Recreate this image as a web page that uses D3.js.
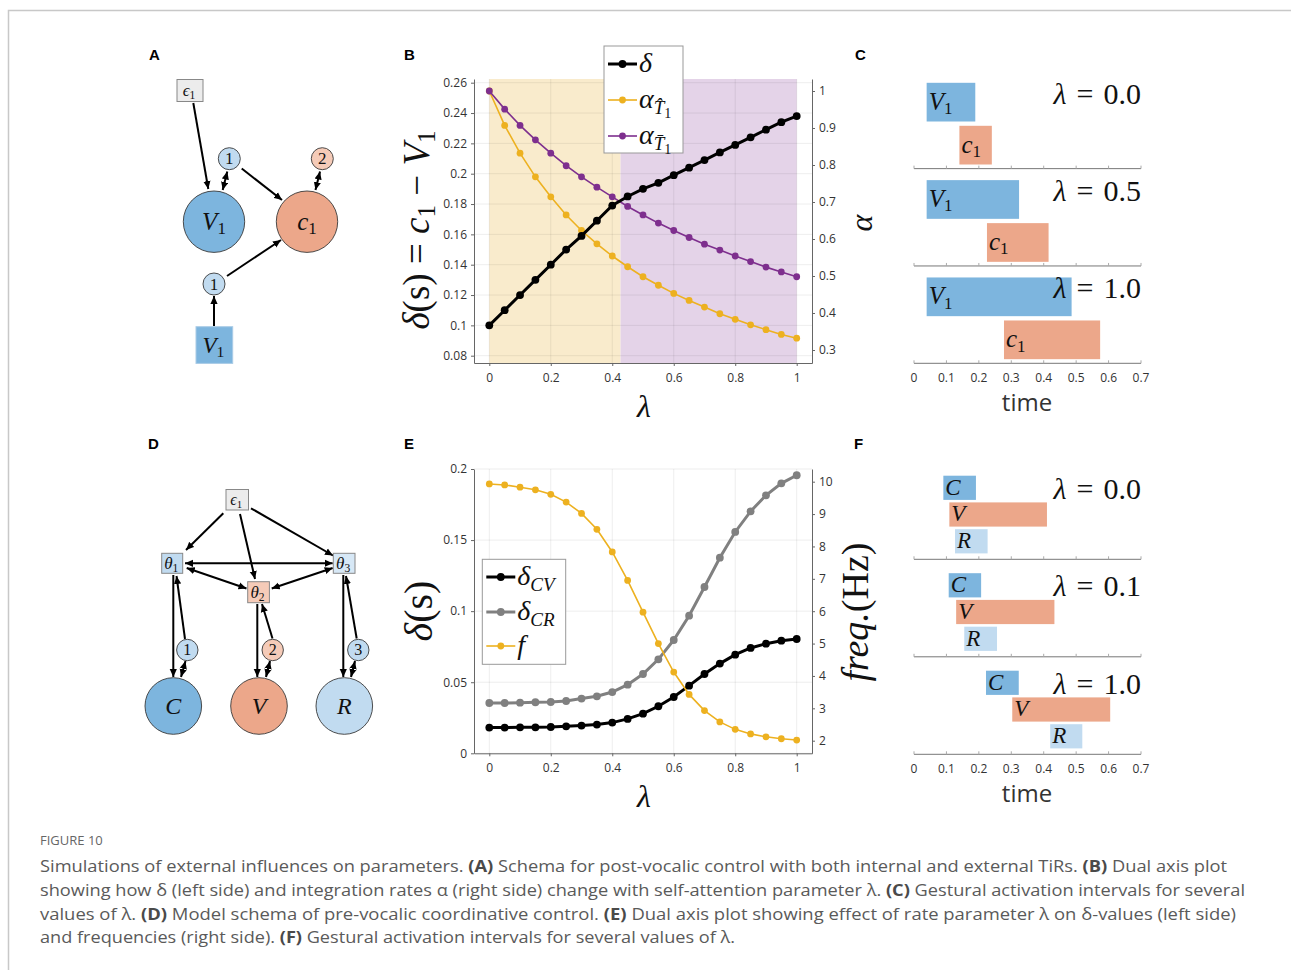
<!DOCTYPE html>
<html><head><meta charset="utf-8">
<script src="https://cdn.jsdelivr.net/npm/d3@7"></script>
<style>body{margin:0;background:#fff} svg{display:block} text{white-space:pre}</style>
</head><body>
<svg id="fig" width="1291" height="970"></svg>
<script>
// λ sweep shared by panels B and E
const lambdaGrid = [0,0.05,0.1,0.15,0.2,0.25,0.3,0.35,0.4,0.45,0.5,0.55,0.6,0.65,0.7,0.75,0.8,0.85,0.9,0.95,1];
// Panel B: δ (left axis) and integration rates α (right axis)
const deltaB   = [0.100,0.110,0.120,0.130,0.140,0.150,0.159,0.169,0.179,0.185,0.190,0.194,0.199,0.204,0.209,0.214,0.219,0.224,0.229,0.234,0.238];
const alphaHat = [1.000,0.907,0.832,0.768,0.714,0.665,0.623,0.587,0.554,0.525,0.498,0.475,0.453,0.434,0.416,0.398,0.383,0.368,0.355,0.342,0.332];
const alphaBar = [1.000,0.951,0.907,0.868,0.832,0.798,0.768,0.740,0.714,0.688,0.665,0.643,0.623,0.604,0.586,0.570,0.554,0.539,0.524,0.511,0.498];
const regimeSplit = 0.427;
const bLeftTicks  = [0.08,0.1,0.12,0.14,0.16,0.18,0.2,0.22,0.24,0.26];
const bRightTicks = [0.3,0.4,0.5,0.6,0.7,0.8,0.9,1];
const lambdaTicks = [0,0.2,0.4,0.6,0.8,1];
// Panel C: activation intervals [start, end]
const cLambdaLabels = ["0.0","0.5","1.0"];
const cV1 = [[0.039,0.189],[0.039,0.324],[0.039,0.486]];
const cC1 = [[0.140,0.240],[0.225,0.415],[0.2775,0.574]];
// Panel E: δ values (left axis) and frequency (right axis)
const deltaCV = [0.0181,0.0181,0.0183,0.0183,0.0185,0.0190,0.0195,0.0202,0.0216,0.0242,0.0279,0.0331,0.0396,0.0476,0.0558,0.0631,0.0694,0.0741,0.0771,0.0792,0.0804];
const deltaCR = [0.0354,0.0354,0.0356,0.0359,0.0361,0.0368,0.0385,0.0401,0.0431,0.0483,0.0558,0.0661,0.0797,0.0968,0.1170,0.1376,0.1557,0.1702,0.1815,0.1899,0.1956];
const freqHz  = [9.93,9.90,9.83,9.75,9.61,9.37,9.02,8.53,7.83,6.95,5.97,5.00,4.12,3.43,2.93,2.58,2.35,2.21,2.12,2.06,2.02];
const eLeftTicks  = [0,0.05,0.1,0.15,0.2];
const eRightTicks = [2,3,4,5,6,7,8,9,10];
// Panel F: activation intervals [start, end]
const fLambdaLabels = ["0.0","0.1","1.0"];
const fC = [[0.0905,0.191],[0.107,0.207],[0.222,0.323]];
const fV = [[0.109,0.410],[0.130,0.433],[0.303,0.605]];
const fR = [[0.1265,0.227],[0.155,0.256],[0.420,0.519]];
const timeTicks = [0,0.1,0.2,0.3,0.4,0.5,0.6,0.7];

const SERIF = "'Liberation Serif','DejaVu Serif',serif";
const SANS = "'Open Sans','DejaVu Sans',sans-serif";
const COL = {blue:"#7db5de", salmon:"#eca78a", light:"#c1dbf0", lightSalmon:"#f5cbb8",
             gold:"#EDB120", purple:"#7E2F8E", gray:"#808080", box:"#ececec"};

const svg = d3.select("#fig");
svg.append("rect").attr("width",1291).attr("height",970).attr("fill","#fff");
// page frame
svg.append("path").attr("d","M8.5,970 V10.5 H1291").attr("fill","none").attr("stroke","#c8c8c8").attr("stroke-width",1.5);

const defs = svg.append("defs");
defs.append("marker").attr("id","arr").attr("viewBox","0 0 10 10").attr("refX",10).attr("refY",5)
  .attr("markerWidth",8).attr("markerHeight",8).attr("markerUnits","userSpaceOnUse")
  .attr("orient","auto-start-reverse")
  .append("path").attr("d","M0,0.5 L10,5 L0,9.5 Z").attr("fill","#000");

// math-like text: parts = [string, kind]; kind: i italic, r roman, s sub, si sub italic, ss sub-sub
function math(parent, x, y, parts, size, anchor="start", rot=0) {
  const t = parent.append("text").attr("x",x).attr("y",y).attr("font-family",SERIF)
    .attr("font-size",size).attr("text-anchor",anchor).attr("fill","#111");
  if (rot) t.attr("transform",`rotate(${rot},${x},${y})`);
  const spec = {i:[1,0,true], r:[1,0,false], s:[0.68,0.17,false], si:[0.68,0.2,true], ss:[0.5,0.36,false]};
  let down = 0;
  for (const [s, kind] of parts) {
    const [sc, sh, it] = spec[kind];
    const ts = t.append("tspan").text(s);
    const target = sh*size;
    if (Math.abs(target-down) > 1e-6) { ts.attr("dy", target-down); down = target; }
    if (sc !== 1) ts.attr("font-size", size*sc);
    if (it) ts.attr("font-style","italic");
  }
  return t;
}

function panelLetter(x, y, s) {
  svg.append("text").attr("x",x).attr("y",y).attr("font-family","'Liberation Sans',Arial,sans-serif")
    .attr("font-weight","bold").attr("font-size",15).attr("fill","#000").text(s);
}
panelLetter(149,60,"A"); panelLetter(404,60,"B"); panelLetter(855,60,"C");
panelLetter(148,449,"D"); panelLetter(404,449,"E"); panelLetter(854,449,"F");

function arrow(g, p, q, both=false, w=2) {
  const l = g.append("line").attr("x1",p[0]).attr("y1",p[1]).attr("x2",q[0]).attr("y2",q[1])
    .attr("stroke","#000").attr("stroke-width",w).attr("marker-end","url(#arr)");
  if (both) l.attr("marker-start","url(#arr)");
}
function circleNode(g, cx, cy, r, fill, parts, size) {
  g.append("circle").attr("cx",cx).attr("cy",cy).attr("r",r).attr("fill",fill).attr("stroke","#3a3a3a").attr("stroke-width",0.9);
  math(g, cx, cy+size*0.33, parts, size, "middle");
}
function boxNode(g, x, y, w, h, fill, parts, size, stroke="#888") {
  g.append("rect").attr("x",x).attr("y",y).attr("width",w).attr("height",h).attr("fill",fill).attr("stroke",stroke).attr("stroke-width",1);
  math(g, x+w/2-1, y+h/2+size*0.33, parts, size, "middle");
}

// ---------- Panel A: post-vocalic schema ----------
const gA = svg.append("g");
arrow(gA,[193.3,103],[208.3,189]);
arrow(gA,[227.3,171.5],[222.7,190],true);
arrow(gA,[241.7,168.5],[282,200]);
arrow(gA,[320,171.5],[315.5,190],true);
arrow(gA,[227,276],[281,240]);
arrow(gA,[214,326],[214,296]);
boxNode(gA,177,79.5,26,22,COL.box,[["ϵ","i"],["1","s"]],17);
circleNode(gA,229.3,158.7,11,COL.light,[["1","r"]],17);
circleNode(gA,322.3,158.7,11,COL.lightSalmon,[["2","r"]],17);
circleNode(gA,214,221.7,30.7,COL.blue,[["V","i"],["1","s"]],25);
circleNode(gA,307,221.7,30.7,COL.salmon,[["c","i"],["1","s"]],25);
circleNode(gA,214,284,11,COL.light,[["1","r"]],17);
boxNode(gA,196,326.7,36.7,36.7,COL.blue,[["V","i"],["1","s"]],23,"#a9cbe6");

// ---------- Panel D: pre-vocalic coordinative schema ----------
const gD = svg.append("g");
arrow(gD,[223.3,513.3],[186,550]);
arrow(gD,[240,514],[255,579]);
arrow(gD,[251,508.3],[333,555.5]);
arrow(gD,[185,563.3],[332.7,563.3],true);
arrow(gD,[186.7,568],[246.5,588.5],true);
arrow(gD,[332.7,568],[271.7,588.5],true);
arrow(gD,[173.3,575],[173.3,677]);
arrow(gD,[185,639],[176.5,576]);
arrow(gD,[185.5,661],[181,677],true);
arrow(gD,[257.3,604],[257.3,677]);
arrow(gD,[272.5,638.5],[262,604]);
arrow(gD,[270,661],[266,677],true);
arrow(gD,[343.3,575],[343.3,677]);
arrow(gD,[356.7,638.5],[346,576]);
arrow(gD,[355,661],[351,677],true);
boxNode(gD,226,489.5,22.5,20.5,COL.box,[["ϵ","i"],["1","s"]],16);
boxNode(gD,161.7,553.3,21,20,COL.light,[["θ","i"],["1","s"]],17);
boxNode(gD,333.3,553.3,21.7,20,"#d7e8f6",[["θ","i"],["3","s"]],17);
boxNode(gD,247.7,581.7,21.7,21,COL.lightSalmon,[["θ","i"],["2","s"]],17);
circleNode(gD,187.3,650,10.7,COL.light,[["1","r"]],16);
circleNode(gD,272.7,650,10.7,COL.lightSalmon,[["2","r"]],16);
circleNode(gD,358.3,650,10.7,COL.light,[["3","r"]],16);
circleNode(gD,173.3,706,28.3,COL.blue,[["C","i"]],24);
circleNode(gD,259,706,28.3,COL.salmon,[["V","i"]],24);
circleNode(gD,344.3,706,28.3,COL.light,[["R","i"]],24);

// ---------- dual-axis line panels ----------
const numFmt = d => String(+(+d).toFixed(2));
function styleAxis(sel) {
  sel.selectAll("path.domain").attr("stroke","#666");
  sel.selectAll(".tick line").attr("stroke","#666");
  sel.selectAll("text").attr("font-family",SANS).attr("font-size",12).attr("fill","#333");
}
function dualPanel(cfg) {
  const g = svg.append("g");
  const {top, bottom, left, right} = cfg;
  const x = d3.scaleLinear().domain([0,1]).range([489.3,796.7]);
  x.domain([x.invert(left), x.invert(right)]).range([left,right]);
  const yL = d3.scaleLinear().domain(cfg.lDom).range(cfg.lRange);
  yL.domain([yL.invert(bottom), yL.invert(top)]).range([bottom,top]);
  const yR = d3.scaleLinear().domain(cfg.rDom).range(cfg.rRange);
  yR.domain([yR.invert(bottom), yR.invert(top)]).range([bottom,top]);
  if (cfg.shade) cfg.shade(g, x, top, bottom);
  // grid
  g.append("g").selectAll("line").data(lambdaTicks).join("line")
    .attr("x1",d=>x(d)).attr("x2",d=>x(d)).attr("y1",top).attr("y2",bottom)
    .attr("stroke","#000").attr("stroke-opacity",0.07);
  g.append("g").selectAll("line").data(cfg.lTicks).join("line")
    .attr("x1",left).attr("x2",right).attr("y1",d=>yL(d)).attr("y2",d=>yL(d))
    .attr("stroke","#000").attr("stroke-opacity",0.07);
  g.append("g").attr("transform",`translate(0,${bottom})`)
    .call(d3.axisBottom(x).tickValues(lambdaTicks).tickFormat(numFmt).tickSize(3).tickSizeOuter(0).tickPadding(7.5)).call(styleAxis);
  g.append("g").attr("transform",`translate(${left},0)`)
    .call(d3.axisLeft(yL).tickValues(cfg.lTicks).tickFormat(numFmt).tickSize(3).tickSizeOuter(0).tickPadding(4)).call(styleAxis);
  g.append("g").attr("transform",`translate(${right},0)`)
    .call(d3.axisRight(yR).tickValues(cfg.rTicks).tickFormat(numFmt).tickSize(3).tickSizeOuter(0).tickPadding(4)).call(styleAxis);
  for (const s of cfg.series) {
    const y = s.axis === "L" ? yL : yR;
    const pts = lambdaGrid.map((l,i)=>[x(l), y(s.values[i])]);
    g.append("path").attr("d", d3.line()(pts)).attr("fill","none").attr("stroke",s.color).attr("stroke-width",s.w);
    g.append("g").selectAll("circle").data(pts).join("circle")
      .attr("cx",d=>d[0]).attr("cy",d=>d[1]).attr("r",s.r).attr("fill",s.color);
  }
  // legend
  const L = cfg.legend;
  g.append("rect").attr("x",L.x).attr("y",L.y).attr("width",L.w).attr("height",L.h)
    .attr("fill","#fff").attr("stroke","#999").attr("stroke-width",1);
  L.items.forEach((it, i) => {
    const s = cfg.series[it.series];
    const yy = L.rows[i];
    g.append("line").attr("x1",L.x+4).attr("x2",L.x+33).attr("y1",yy).attr("y2",yy).attr("stroke",s.color).attr("stroke-width",s.w);
    g.append("circle").attr("cx",L.x+18.5).attr("cy",yy).attr("r",s.r).attr("fill",s.color);
    math(g, L.x+35, yy+it.size*0.3, it.parts, it.size);
  });
  return {g, x, yL, yR};
}

// Panel B
dualPanel({
  top:79, bottom:363, left:474, right:812,
  lDom:[0.08,0.26], lRange:[355.7,82.7], rDom:[0.3,1], rRange:[350,91],
  lTicks:bLeftTicks, rTicks:bRightTicks,
  shade:(g,x,top,bottom)=>{
    g.append("rect").attr("x",x(0)).attr("y",top).attr("width",x(regimeSplit)-x(0)).attr("height",bottom-top).attr("fill","#f9ebcc");
    g.append("rect").attr("x",x(regimeSplit)).attr("y",top).attr("width",x(1)-x(regimeSplit)).attr("height",bottom-top).attr("fill","#e4d3e8");
  },
  series:[
    {values:alphaHat, axis:"R", color:COL.gold, w:1.6, r:3.4},
    {values:alphaBar, axis:"R", color:COL.purple, w:1.6, r:3.4},
    {values:deltaB, axis:"L", color:"#000", w:3, r:3.9}
  ],
  legend:{x:604, y:46, w:79, h:107, rows:[64,100,136], items:[
    {series:2, parts:[["δ","i"]], size:28},
    {series:0, parts:[["α","i"],["T̂","si"],["1","ss"]], size:28},
    {series:1, parts:[["α","i"],["T̄","si"],["1","ss"]], size:28}
  ]}
});
math(svg, 429, 230, [["δ","i"],["(s) = ","r"],["c","i"],["1","s"],[" − ","r"],["V","i"],["1","s"]], 37, "middle", -90);
math(svg, 872, 223, [["α","i"]], 32, "middle", -90);
math(svg, 644, 417, [["λ","i"]], 32, "middle");

// Panel E
dualPanel({
  top:469, bottom:753.3, left:474, right:812,
  lDom:[0,0.2], lRange:[753.3,469], rDom:[2,10], rRange:[740.7,481.7],
  lTicks:eLeftTicks, rTicks:eRightTicks,
  series:[
    {values:deltaCV, axis:"L", color:"#000", w:3, r:3.9},
    {values:deltaCR, axis:"L", color:COL.gray, w:3, r:3.9},
    {values:freqHz, axis:"R", color:COL.gold, w:1.6, r:3.4}
  ],
  legend:{x:482.3, y:559.3, w:83.4, h:105, rows:[577,612,646], items:[
    {series:0, parts:[["δ","i"],["CV","si"]], size:28},
    {series:1, parts:[["δ","i"],["CR","si"]], size:28},
    {series:2, parts:[["f","i"]], size:28}
  ]}
});
math(svg, 432, 611, [["δ","i"],["(s)","r"]], 40, "middle", -90);
math(svg, 868, 612, [["freq.","i"],["(Hz)","r"]], 38, "middle", -90);
math(svg, 644, 807, [["λ","i"]], 32, "middle");

// ---------- gestural activation intervals ----------
function ganttPanel(cfg) {
  const g = svg.append("g");
  const x = d3.scaleLinear().domain([0,0.7]).range([914,1141]);
  const sec = d3.scaleBand().domain(d3.range(cfg.labels.length)).range([cfg.top, cfg.bottom]);
  cfg.labels.forEach((lab, k) => {
    const y0 = sec(k);
    cfg.rows.forEach(row => {
      const [a, b] = row.data[k];
      g.append("rect").attr("x",x(a)).attr("y",y0+row.off).attr("width",x(b)-x(a)).attr("height",cfg.barH).attr("fill",row.color);
      math(g, x(a)+2, y0+row.off+cfg.barH/2+cfg.fs*0.3, row.parts, cfg.fs);
    });
    const yb = y0 + sec.step();
    g.append("line").attr("x1",914).attr("x2",1141).attr("y1",yb).attr("y2",yb).attr("stroke","#777").attr("stroke-width",1);
    g.append("g").selectAll("line").data(timeTicks).join("line")
      .attr("x1",d=>x(d)).attr("x2",d=>x(d)).attr("y1",yb).attr("y2",yb-3).attr("stroke","#aaa");
    math(g, 1141, y0+cfg.labOff, [["λ","i"],[" \u200A=\u200A "+lab,"r"]], 30, "end");
  });
  g.selectAll("text.tick").data(timeTicks).join("text").attr("class","tick")
    .attr("x",d=>x(d)).attr("y",cfg.bottom+18.5).attr("text-anchor","middle")
    .attr("font-family",SANS).attr("font-size",12).attr("fill","#333").text(numFmt);
  g.append("text").attr("x",1027).attr("y",cfg.bottom+48).attr("text-anchor","middle")
    .attr("font-family",SANS).attr("font-size",24).attr("fill","#333").text("time");
}
ganttPanel({top:71.3, bottom:363.3, barH:38.7, fs:25, labOff:32.5, labels:cLambdaLabels, rows:[
  {data:cV1, off:11.5, color:COL.blue, parts:[["V","i"],["1","s"]]},
  {data:cC1, off:54.5, color:COL.salmon, parts:[["c","i"],["1","s"]]}
]});
ganttPanel({top:461.8, bottom:754.3, barH:24.2, fs:23, labOff:37, labels:fLambdaLabels, rows:[
  {data:fC, off:13.9, color:COL.blue, parts:[["C","i"]]},
  {data:fV, off:40.6, color:COL.salmon, parts:[["V","i"]]},
  {data:fR, off:67.4, color:COL.light, parts:[["R","i"]]}
]});

// ---------- caption ----------
svg.append("text").attr("x",40).attr("y",845).attr("font-family",SANS).attr("font-size",13)
  .attr("fill","#666").text("FIGURE 10");
const captionLines = [
  {y:872, len:1187, parts:[["Simulations of external influences on parameters. ",0],["(A)",1],[" Schema for post-vocalic control with both internal and external TiRs. ",0],["(B)",1],[" Dual axis plot",0]]},
  {y:896, len:1205, parts:[["showing how δ (left side) and integration rates α (right side) change with self-attention parameter λ. ",0],["(C)",1],[" Gestural activation intervals for several",0]]},
  {y:920, len:1196, parts:[["values of λ. ",0],["(D)",1],[" Model schema of pre-vocalic coordinative control. ",0],["(E)",1],[" Dual axis plot showing effect of rate parameter λ on δ-values (left side)",0]]},
  {y:943, len:695, parts:[["and frequencies (right side). ",0],["(F)",1],[" Gestural activation intervals for several values of λ.",0]]}
];
captionLines.forEach(line => {
  const t = svg.append("text").attr("x",40).attr("y",line.y).attr("font-family",SANS)
    .attr("font-size",16.5).attr("fill","#5a5a5a").attr("textLength",line.len).attr("lengthAdjust","spacingAndGlyphs");
  line.parts.forEach(([s,b]) => {
    const ts = t.append("tspan").text(s);
    if (b) ts.attr("font-weight",700).attr("fill","#4a4a4a");
  });
});
</script>
</body></html>
